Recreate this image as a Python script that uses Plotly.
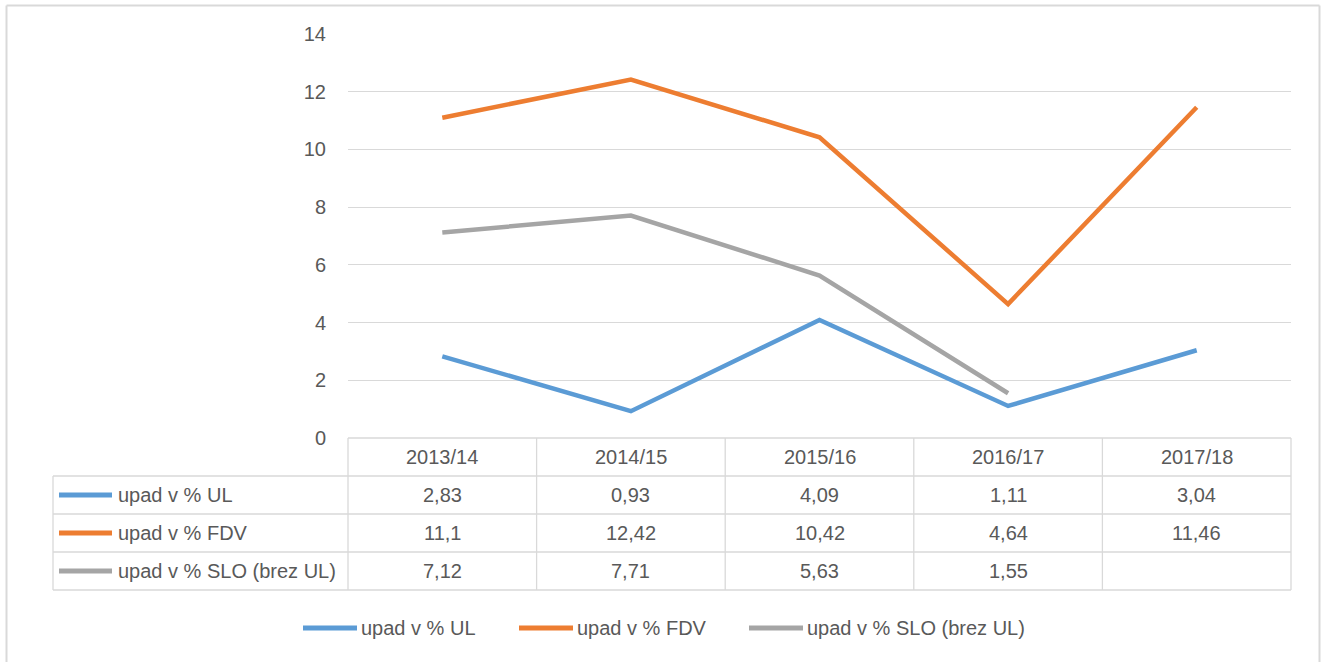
import plotly.graph_objects as go

# ---- data ----
categories = ["2013/14", "2014/15", "2015/16", "2016/17", "2017/18"]
series_names = ["upad v % UL", "upad v % FDV", "upad v % SLO (brez UL)"]
ul_values = [2.83, 0.93, 4.09, 1.11, 3.04]
fdv_values = [11.1, 12.42, 10.42, 4.64, 11.46]
slo_values = [7.12, 7.71, 5.63, 1.55, None]
y_ticks = [0, 2, 4, 6, 8, 10, 12, 14]

colors = ["#5B9BD5", "#ED7D31", "#A5A5A5"]
text_color = "#595959"
grid_color = "#D9D9D9"
FONT = "Liberation Sans"
FS = 20

W, H = 1327, 662                   # figure size (page body margin removed)
L, R, T, B = 348, 1291, 34, 438    # plot area in pixels


def px(x):
    return (x - L) / (R - L)


def py(y):
    return (B - y) / (B - T)


all_series = [ul_values, fdv_values, slo_values]

fig = go.Figure()
for name, vals, col in zip(series_names, all_series, colors):
    fig.add_trace(go.Scatter(
        x=categories, y=vals, mode="lines", name=name,
        line=dict(color=col, width=4.5), connectgaps=False,
        showlegend=False, hoverinfo="skip"))

shapes = []
annotations = []
line_style = dict(color=grid_color, width=1.3)

# outer chart border
border = dict(color=grid_color, width=2)
shapes.append(dict(type="line", xref="paper", yref="paper",
                   x0=px(6.5), x1=px(1319.5), y0=py(5.5), y1=py(5.5), line=border))
shapes.append(dict(type="line", xref="paper", yref="paper",
                   x0=px(6.5), x1=px(6.5), y0=py(5.5), y1=py(H), line=border))
shapes.append(dict(type="line", xref="paper", yref="paper",
                   x0=px(1319.5), x1=px(1319.5), y0=py(5.5), y1=py(H), line=border))

# table geometry
row_edges = [438, 476, 514, 552, 590]
left_col = 53
n = len(categories)
cell_w = (R - L) / n

shapes.append(dict(type="line", xref="paper", yref="paper",
                   x0=px(L), x1=px(R), y0=py(row_edges[0]), y1=py(row_edges[0]),
                   line=line_style))
for ye in row_edges[1:]:
    shapes.append(dict(type="line", xref="paper", yref="paper",
                       x0=px(left_col), x1=px(R), y0=py(ye), y1=py(ye),
                       line=line_style))
shapes.append(dict(type="line", xref="paper", yref="paper",
                   x0=px(left_col), x1=px(left_col), y0=py(row_edges[1]), y1=py(row_edges[-1]),
                   line=line_style))
for i in range(n + 1):
    xe = L + i * cell_w
    shapes.append(dict(type="line", xref="paper", yref="paper",
                       x0=px(xe), x1=px(xe), y0=py(row_edges[0]), y1=py(row_edges[-1]),
                       line=line_style))

txt_font = dict(family=FONT, size=FS, color=text_color)

for c in categories:
    annotations.append(dict(x=c, xref="x", y=py((row_edges[0] + row_edges[1]) / 2), yref="paper",
                            text=c, showarrow=False, font=txt_font,
                            xanchor="center", yanchor="middle"))


def fmt(v):
    if v is None:
        return ""
    s = ("%.2f" % v).rstrip("0").rstrip(".")
    return s.replace(".", ",")


for r, (name, vals, col) in enumerate(zip(series_names, all_series, colors)):
    yc = (row_edges[r + 1] + row_edges[r + 2]) / 2
    shapes.append(dict(type="line", xref="paper", yref="paper",
                       x0=px(59), x1=px(112), y0=py(yc), y1=py(yc),
                       line=dict(color=col, width=5)))
    annotations.append(dict(x=px(116), xref="paper", y=py(yc), yref="paper",
                            text=name, showarrow=False, font=txt_font,
                            xanchor="left", yanchor="middle"))
    for c, v in zip(categories, vals):
        if v is None:
            continue
        annotations.append(dict(x=c, xref="x", y=py(yc), yref="paper",
                                text=fmt(v), showarrow=False, font=txt_font,
                                xanchor="center", yanchor="middle"))

legend_y = 628
legend_x = [303, 519, 749]
for name, col, lx in zip(series_names, colors, legend_x):
    shapes.append(dict(type="line", xref="paper", yref="paper",
                       x0=px(lx), x1=px(lx + 54), y0=py(legend_y), y1=py(legend_y),
                       line=dict(color=col, width=5)))
    annotations.append(dict(x=px(lx + 56), xref="paper", y=py(legend_y), yref="paper",
                            text=name, showarrow=False, font=txt_font,
                            xanchor="left", yanchor="middle"))

fig.update_layout(
    width=W, height=H,
    margin=dict(l=L, r=W - R, t=T, b=H - B, pad=0),
    paper_bgcolor="white", plot_bgcolor="white",
    showlegend=False,
    shapes=shapes, annotations=annotations,
    font=dict(family=FONT, size=FS, color=text_color),
    xaxis=dict(type="category", categoryorder="array", categoryarray=categories,
               range=[-0.5, n - 0.5], showticklabels=False, showgrid=False,
               zeroline=False, showline=False, fixedrange=True),
    yaxis=dict(range=[0, 14], tickvals=y_ticks, ticktext=[str(t) for t in y_ticks],
               showgrid=True, gridcolor=grid_color, gridwidth=1,
               zeroline=False, showline=False, ticks="",
               ticklabelstandoff=21, tickfont=dict(family=FONT, size=FS, color=text_color),
               fixedrange=True),
)

fig.write_html("out.html", config={"displayModeBar": False},
               post_script="document.body.style.margin='0';document.body.style.overflow='hidden';")
